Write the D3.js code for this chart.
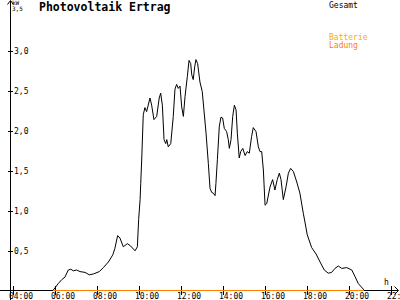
<!DOCTYPE html>
<html>
<head>
<meta charset="utf-8">
<script src="https://cdn.jsdelivr.net/npm/d3@7"></script>
<style>
  html, body { margin: 0; padding: 0; background: #fff; }
  svg { display: block; }
  text { font-family: "DejaVu Sans Mono", monospace; }
</style>
</head>
<body>
<svg id="chart" width="400" height="300"></svg>
<script>
// ---- data ----
const title = "Photovoltaik Ertrag";
const hourTicks = [4, 6, 8, 10, 12, 14, 16, 18, 20, 22];
const hourTickLabels = ["04:00", "06:00", "08:00", "10:00", "12:00", "14:00", "16:00", "18:00", "20:00", "22:00"];
const kwTicks = [0.5, 1.0, 1.5, 2.0, 2.5, 3.0, 3.5];
const kwTickLabels = ["0,5", "1,0", "1,5", "2,0", "2,5", "3,0", "3,5"];
const seriesNames = ["Gesamt", "Batterie", "Ladung"];
const gesamtHours = [5.97, 6.20, 6.37, 6.52, 6.68, 6.80, 6.92, 7.08, 7.24, 7.48, 7.68, 7.87, 8.16, 8.35, 8.59, 8.80, 8.90, 9.03, 9.14, 9.30, 9.49, 9.65, 9.86, 9.97, 10.03, 10.10, 10.13, 10.18, 10.25, 10.33, 10.41, 10.57, 10.65, 10.76, 10.89, 11.01, 11.08, 11.16, 11.24, 11.32, 11.37, 11.44, 11.56, 11.68, 11.76, 11.84, 11.92, 12.00, 12.08, 12.16, 12.24, 12.35, 12.43, 12.51, 12.56, 12.63, 12.70, 12.76, 12.84, 12.95, 13.06, 13.14, 13.24, 13.35, 13.43, 13.51, 13.59, 13.67, 13.71, 13.78, 13.87, 13.95, 14.03, 14.11, 14.22, 14.30, 14.35, 14.43, 14.51, 14.59, 14.67, 14.73, 14.82, 14.89, 14.99, 15.10, 15.20, 15.30, 15.41, 15.49, 15.62, 15.73, 15.81, 15.89, 15.97, 16.05, 16.13, 16.29, 16.41, 16.52, 16.63, 16.73, 16.81, 16.92, 17.05, 17.16, 17.27, 17.40, 17.56, 17.71, 17.87, 17.95, 18.06, 18.27, 18.48, 18.67, 18.87, 19.06, 19.22, 19.38, 19.54, 19.70, 19.94, 20.18, 20.33, 20.49, 20.73, 20.76];
const gesamtKW = [0.00, 0.08, 0.13, 0.16, 0.25, 0.26, 0.24, 0.25, 0.23, 0.22, 0.19, 0.20, 0.23, 0.28, 0.35, 0.44, 0.52, 0.68, 0.65, 0.54, 0.58, 0.55, 0.49, 0.54, 0.88, 1.13, 1.33, 1.65, 2.19, 2.28, 2.23, 2.40, 2.31, 2.13, 2.17, 2.40, 2.46, 2.31, 1.88, 1.83, 1.88, 1.79, 1.83, 2.17, 2.51, 2.57, 2.52, 2.55, 2.29, 2.17, 2.42, 2.67, 2.87, 2.83, 2.69, 2.63, 2.79, 2.88, 2.83, 2.60, 2.48, 2.25, 1.96, 1.58, 1.27, 1.22, 1.21, 1.18, 1.33, 1.63, 2.04, 2.16, 2.15, 2.02, 1.98, 1.88, 1.77, 1.88, 2.17, 2.31, 2.25, 1.96, 1.65, 1.73, 1.77, 1.68, 1.73, 1.71, 1.92, 2.03, 1.98, 1.79, 1.73, 1.73, 1.50, 1.06, 1.08, 1.29, 1.38, 1.25, 1.38, 1.46, 1.38, 1.13, 1.29, 1.46, 1.52, 1.48, 1.35, 1.21, 0.96, 0.85, 0.69, 0.53, 0.45, 0.35, 0.25, 0.21, 0.22, 0.27, 0.30, 0.27, 0.28, 0.25, 0.17, 0.08, 0.01, 0.00];
const ladungHours = [5.97, 20.76];
const ladungKW = [0, 0];

// ---- drawing ----
const svg = d3.select("#chart");
const x = d3.scaleLinear().domain([4, 22]).range([12, 390]);
const y = d3.scaleLinear().domain([0, 3.5]).range([290, 10]);
const colors = { Gesamt: "#000000", Batterie: "#FFAA00", Ladung: "#FF8000" };

// axis lines
svg.append("line").attr("x1", 0).attr("x2", 398).attr("y1", y(0) + 0.5).attr("y2", y(0) + 0.5)
  .attr("stroke", "#000").attr("shape-rendering", "crispEdges");
svg.append("line").attr("x1", 10.5).attr("x2", 10.5).attr("y1", 300).attr("y2", 1)
  .attr("stroke", "#000").attr("shape-rendering", "crispEdges");
// arrows
svg.append("path").attr("d", "M394.5,286.5 L398.5,290.5 L394.5,294.5").attr("fill", "none").attr("stroke", "#000");
svg.append("path").attr("d", "M7.5,4.5 L10.5,0.5 L13.5,4.5").attr("fill", "none").attr("stroke", "#000");

// x axis ticks
const xAxis = d3.axisBottom(x).tickValues(hourTicks)
  .tickFormat((d, i) => hourTickLabels[i]).tickSizeInner(9).tickSizeOuter(0);
const gx = svg.append("g").attr("transform", "translate(0.5,286)").call(xAxis);
gx.select(".domain").remove();
gx.selectAll(".tick line").attr("stroke", "#000").attr("shape-rendering", "crispEdges");
gx.selectAll(".tick text").attr("y", 13).attr("dy", 0).attr("dx", 8)
  .attr("font-size", "8px").attr("fill", "#000").attr("font-family", "DejaVu Sans Mono, monospace");

// y axis ticks
const yAxis = d3.axisRight(y).tickValues(kwTicks)
  .tickFormat((d, i) => kwTickLabels[i]).tickSizeInner(5).tickSizeOuter(0);
const gy = svg.append("g").attr("transform", "translate(8,0.5)").call(yAxis);
gy.select(".domain").remove();
gy.selectAll(".tick line").attr("stroke", "#000").attr("shape-rendering", "crispEdges");
gy.selectAll(".tick text").attr("x", 6).attr("dy", "0.35em")
  .attr("font-size", "8px").attr("fill", "#000").attr("font-family", "DejaVu Sans Mono, monospace");
// top tick label sits under the unit, shrink it
gy.selectAll(".tick").filter(d => d === 3.5).select("text").attr("font-size", "6px").attr("x", 4).attr("dy", "0.05em");
gy.selectAll(".tick").filter(d => d === 3.5).select("line").remove();

// unit labels
svg.append("text").attr("x", 12).attr("y", 5).attr("font-size", "6px").text("kW");
svg.append("text").attr("x", 384).attr("y", 285).attr("font-size", "8px").text("h");

// title
svg.append("text").attr("x", 39).attr("y", 11).attr("font-size", "11.5px").attr("font-weight", "bold").text(title);

// legend
svg.append("text").attr("x", 329).attr("y", 8).attr("font-size", "8px").attr("fill", colors.Gesamt).text(seriesNames[0]);
svg.append("text").attr("x", 329).attr("y", 39.5).attr("font-size", "8px").attr("fill", colors.Batterie).text(seriesNames[1]);
svg.append("text").attr("x", 329).attr("y", 47.5).attr("font-size", "8px").attr("fill", colors.Ladung).text(seriesNames[2]);

// lines
const line = d3.line().x(d => x(d[0])).y(d => y(d[1]));
svg.append("path").datum(gesamtHours.map((h, i) => [h, gesamtKW[i]]))
  .attr("d", line).attr("fill", "none").attr("stroke", colors.Gesamt).attr("stroke-width", 1);
svg.append("path").datum(ladungHours.map((h, i) => [h, ladungKW[i]]))
  .attr("d", d3.line().x(d => x(d[0])).y(d => y(d[1]) + 0.5)).attr("fill", "none")
  .attr("stroke", colors.Ladung).attr("stroke-width", 1).attr("shape-rendering", "crispEdges");
</script>
</body>
</html>
